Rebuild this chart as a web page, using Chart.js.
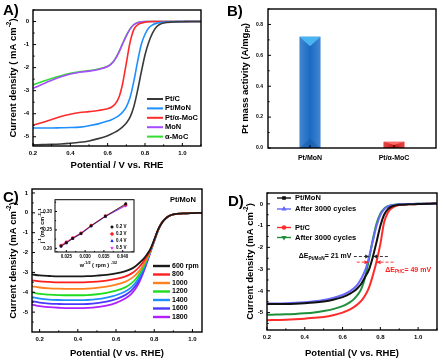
<!DOCTYPE html>
<html>
<head>
<meta charset="utf-8">
<script src="https://cdn.jsdelivr.net/npm/chart.js@4.4.1/dist/chart.umd.min.js"></script>
<style>
  html, body { margin: 0; padding: 0; background: #fff; }
  #fig { position: relative; width: 445px; height: 363px; overflow: hidden; }
  #fig canvas { position: absolute; }
  .tag { position: absolute; font: bold 15px Arial, "Liberation Sans", sans-serif; line-height: 15px; color: #000; }
</style>
</head>
<body>
<div id="fig">
  <canvas id="cA" width="222" height="178" style="left:0;top:0"></canvas>
  <canvas id="cB" width="220" height="178" style="left:225px;top:0"></canvas>
  <canvas id="cC" width="225" height="183" style="left:0;top:180px"></canvas>
  <canvas id="cInset" width="104" height="78" style="left:36px;top:194px"></canvas>
  <canvas id="cD" width="220" height="183" style="left:225px;top:180px"></canvas>
  <div class="tag" style="left:3px;top:2px">A)</div>
  <div class="tag" style="left:227px;top:3px">B)</div>
  <div class="tag" style="left:3px;top:189px">C)</div>
  <div class="tag" style="left:228px;top:193px">D)</div>
</div>
<script>
// ---- panel A: ORR polarization curves ----
const aPotential = [0.2, 0.25, 0.3, 0.35, 0.4, 0.45, 0.5, 0.55, 0.6, 0.62, 0.64, 0.66, 0.68, 0.70,
  0.72, 0.74, 0.76, 0.78, 0.80, 0.82, 0.84, 0.86, 0.88, 0.90, 0.95, 1.0, 1.05, 1.1];
const aPtC = [-5.35, -5.34, -5.33, -5.31, -5.28, -5.24, -5.18, -5.08, -4.95, -4.88, -4.80, -4.70, -4.57, -4.40,
  -4.15, -3.70, -3.00, -2.20, -1.45, -0.90, -0.50, -0.25, -0.12, -0.06, -0.02, -0.01, 0, 0];
const aPtMoN = [-4.62, -4.62, -4.62, -4.61, -4.60, -4.58, -4.52, -4.44, -4.32, -4.26, -4.18, -4.08, -3.93, -3.70,
  -3.30, -2.60, -1.75, -1.00, -0.55, -0.28, -0.15, -0.08, -0.04, -0.02, -0.01, 0, 0, 0];
const aPtMoC = [-4.50, -4.38, -4.25, -4.12, -4.02, -3.95, -3.91, -3.86, -3.78, -3.72, -3.58, -3.30, -2.70, -1.80,
  -0.90, -0.35, -0.15, -0.07, -0.03, -0.01, 0, 0, 0, 0, 0, 0, 0, 0];
const aMoN = [-2.90, -2.72, -2.55, -2.40, -2.28, -2.20, -2.15, -2.08, -1.95, -1.84, -1.64, -1.34, -0.97, -0.62,
  -0.33, -0.14, -0.05, -0.02, 0, 0, 0, 0, 0, 0, 0, 0, 0, 0];
const aMoC = [-2.75, -2.60, -2.47, -2.35, -2.25, -2.18, -2.13, -2.06, -1.94, -1.82, -1.62, -1.32, -0.95, -0.60,
  -0.32, -0.13, -0.05, -0.02, 0, 0, 0, 0, 0, 0, 0, 0, 0, 0];
const aXTicks = [0.2, 0.4, 0.6, 0.8, 1.0];
const aYTicks = [0, -1, -2, -3, -4, -5];

// ---- panel B: mass activity ----
const bCategories = ["Pt/MoN", "Pt/\u03b1-MoC"];
const bValues = [0.72, 0.04];
const bYTicks = [0, 0.2, 0.4, 0.6, 0.8];

// ---- panel C: rotating speeds ----
const cPotential = [0.16, 0.2, 0.25, 0.3, 0.35, 0.4, 0.45, 0.5, 0.55, 0.6, 0.65, 0.68, 0.70, 0.72, 0.74,
  0.76, 0.78, 0.80, 0.82, 0.84, 0.86, 0.88, 0.90, 0.95, 1.0, 1.05];
const cRpmLabels = ["600 rpm", "800", "1000", "1200", "1400", "1600", "1800"];
const c600 = [-3.10, -3.15, -3.18, -3.20, -3.20, -3.20, -3.19, -3.16, -3.12, -3.05, -2.93, -2.82, -2.70, -2.54,
  -2.36, -2.12, -1.82, -1.35, -0.85, -0.50, -0.28, -0.15, -0.08, -0.03, -0.01, 0];
const c800 = [-3.40, -3.45, -3.48, -3.50, -3.50, -3.50, -3.49, -3.46, -3.41, -3.33, -3.20, -3.06, -2.92, -2.74,
  -2.50, -2.20, -1.86, -1.37, -0.86, -0.50, -0.28, -0.15, -0.08, -0.03, -0.01, 0];
const c1000 = [-3.70, -3.76, -3.80, -3.82, -3.83, -3.83, -3.82, -3.78, -3.72, -3.62, -3.46, -3.30, -3.15, -2.95,
  -2.67, -2.32, -1.90, -1.38, -0.87, -0.50, -0.28, -0.15, -0.08, -0.03, -0.01, 0];
const c1200 = [-4.00, -4.08, -4.12, -4.14, -4.15, -4.15, -4.14, -4.10, -4.03, -3.92, -3.74, -3.55, -3.37, -3.12,
  -2.80, -2.38, -1.92, -1.39, -0.87, -0.50, -0.28, -0.15, -0.08, -0.03, -0.01, 0];
const c1400 = [-4.25, -4.32, -4.37, -4.39, -4.40, -4.40, -4.39, -4.35, -4.27, -4.15, -3.95, -3.75, -3.55, -3.27,
  -2.90, -2.44, -1.94, -1.40, -0.88, -0.50, -0.28, -0.15, -0.08, -0.03, -0.01, 0];
const c1600 = [-4.45, -4.52, -4.57, -4.59, -4.60, -4.60, -4.59, -4.55, -4.47, -4.34, -4.13, -3.92, -3.70, -3.40,
  -3.00, -2.50, -1.96, -1.41, -0.88, -0.50, -0.28, -0.15, -0.08, -0.03, -0.01, 0];
const c1800 = [-4.62, -4.70, -4.75, -4.78, -4.80, -4.80, -4.79, -4.75, -4.67, -4.53, -4.30, -4.08, -3.85, -3.52,
  -3.08, -2.55, -1.98, -1.42, -0.89, -0.50, -0.28, -0.15, -0.08, -0.03, -0.01, 0];
const cXTicks = [0.2, 0.4, 0.6, 0.8, 1.0];
const cYTicks = [1, 0, -1, -2, -3, -4, -5];

// ---- inset of C: Koutecky-Levich ----
const insetW = [0.0236, 0.0250, 0.0267, 0.0289, 0.0316, 0.0354, 0.0408];
const inset02 = [0.206, 0.215, 0.227, 0.240, 0.261, 0.287, 0.321];
const inset03 = [0.207, 0.216, 0.228, 0.241, 0.262, 0.288, 0.319];
const inset04 = [0.205, 0.214, 0.226, 0.239, 0.260, 0.286, 0.317];
const inset05 = [0.209, 0.218, 0.229, 0.242, 0.262, 0.287, 0.315];
const insetXTicks = [0.025, 0.030, 0.035, 0.040];
const insetYTicks = [0.20, 0.25, 0.30];

// ---- panel D: durability ----
const dPotential = [0.2, 0.25, 0.3, 0.35, 0.4, 0.45, 0.5, 0.55, 0.6, 0.62, 0.64, 0.66, 0.68, 0.70,
  0.72, 0.74, 0.76, 0.78, 0.80, 0.82, 0.84, 0.86, 0.88, 0.90, 0.95, 1.0, 1.05, 1.1];
const dPtMoN = [-4.60, -4.60, -4.60, -4.59, -4.57, -4.54, -4.49, -4.41, -4.29, -4.22, -4.13, -4.02, -3.87, -3.66,
  -3.35, -3.02, -2.45, -1.75, -1.02, -0.50, -0.24, -0.12, -0.07, -0.04, -0.02, -0.01, 0, 0.02];
const dPtMoNAfter = [-4.58, -4.58, -4.57, -4.55, -4.52, -4.48, -4.42, -4.33, -4.19, -4.11, -4.01, -3.88, -3.70, -3.42,
  -3.05, -2.45, -1.72, -1.02, -0.52, -0.25, -0.12, -0.07, -0.04, -0.02, -0.01, 0, 0, 0.02];
const dPtC = [-5.35, -5.34, -5.33, -5.31, -5.28, -5.24, -5.20, -5.12, -5.00, -4.93, -4.85, -4.75, -4.62, -4.45,
  -4.20, -3.85, -3.30, -2.65, -1.85, -0.85, -0.40, -0.20, -0.10, -0.05, -0.02, -0.01, 0, 0.02];
const dPtCAfter = [-5.10, -5.09, -5.08, -5.06, -5.03, -4.99, -4.93, -4.84, -4.70, -4.62, -4.52, -4.38, -4.18, -3.90,
  -3.35, -2.55, -1.65, -0.90, -0.45, -0.22, -0.11, -0.06, -0.04, -0.02, -0.01, 0, 0, 0.02];
const dXTicks = [0.2, 0.4, 0.6, 0.8, 1.0];
const dYTicks = [0, -1, -2, -3, -4, -5];

const FONT = 'Arial, "Liberation Sans", Helvetica, sans-serif';
Chart.defaults.font.family = FONT;
Chart.defaults.color = "#000";

function bold(size) {
  return { family: FONT, size, weight: "bold" };
}

function pts(xs, ys) {
  return xs.map((x, i) => ({ x, y: ys[i] }));
}

// text with sub/superscript pieces: parts = [[text, "n"|"sub"|"sup"], ...]
function richText(ctx, parts, x, y, size, opts = {}) {
  const fontFor = (k) => `bold ${k === "n" ? size : size * 0.68}px ${FONT}`;
  let w = 0;
  parts.forEach(([t, k]) => { ctx.font = fontFor(k); w += ctx.measureText(t).width; });
  ctx.save();
  ctx.translate(x, y);
  if (opts.rotate) ctx.rotate(opts.rotate);
  ctx.fillStyle = opts.color || "#000";
  ctx.textBaseline = "middle";
  ctx.textAlign = "left";
  let cx = opts.align === "left" ? 0 : -w / 2;
  parts.forEach(([t, k]) => {
    ctx.font = fontFor(k);
    const dy = k === "sup" ? -size * 0.38 : k === "sub" ? size * 0.32 : 0;
    ctx.fillText(t, cx, dy);
    cx += ctx.measureText(t).width;
  });
  ctx.restore();
}

function minorValues(vals, min, max) {
  const out = [];
  if (vals.length < 2) return out;
  const step = vals[1] - vals[0];
  for (let k = -12; k < vals.length + 12; k++) {
    const v = vals[0] + (k + 0.5) * step;
    if (v >= Math.min(min, max) - 1e-9 && v <= Math.max(min, max) + 1e-9) out.push(v);
  }
  return out;
}

function drawArrow(ctx, x1, x2, y, color) {
  ctx.save();
  ctx.strokeStyle = color;
  ctx.fillStyle = color;
  ctx.lineWidth = 0.9;
  ctx.setLineDash([3, 2]);
  ctx.beginPath();
  ctx.moveTo(x1, y);
  ctx.lineTo(x2, y);
  ctx.stroke();
  ctx.setLineDash([]);
  const dir = x2 > x1 ? 1 : -1;
  ctx.beginPath();
  ctx.moveTo(x2, y);
  ctx.lineTo(x2 - dir * 4, y - 2);
  ctx.lineTo(x2 - dir * 4, y + 2);
  ctx.closePath();
  ctx.fill();
  ctx.restore();
}

// frame, inward ticks, legend, titles and notes
const deco = {
  id: "deco",
  afterDraw(chart, args, o) {
    const { ctx, chartArea: a, scales } = chart;
    const len = o.tickLen || 3;
    ctx.save();
    ctx.strokeStyle = "#000";
    ctx.lineWidth = 1;
    const seg = (x1, y1, x2, y2) => { ctx.beginPath(); ctx.moveTo(x1, y1); ctx.lineTo(x2, y2); ctx.stroke(); };

    const xs = scales.x;
    if (xs.type === "category") {
      xs.ticks.forEach((t, i) => { const px = xs.getPixelForTick(i); seg(px, a.bottom, px, a.bottom - len); });
    } else {
      const xv = xs.ticks.map((t) => t.value);
      xv.forEach((v) => { const px = xs.getPixelForValue(v); seg(px, a.bottom, px, a.bottom - len); });
      minorValues(xv, xs.min, xs.max).forEach((v) => {
        const px = xs.getPixelForValue(v); seg(px, a.bottom, px, a.bottom - len * 0.55);
      });
    }
    const ys = scales.y;
    const yv = ys.ticks.map((t) => t.value);
    yv.forEach((v) => { const py = ys.getPixelForValue(v); seg(a.left, py, a.left + len, py); });
    minorValues(yv, ys.min, ys.max).forEach((v) => {
      const py = ys.getPixelForValue(v); seg(a.left, py, a.left + len * 0.55, py);
    });

    ctx.lineWidth = o.frameWidth || 1.4;
    ctx.strokeRect(a.left, a.top, a.right - a.left, a.bottom - a.top);

    if (o.legend) {
      const L = o.legend;
      let row = 0;
      chart.data.datasets.forEach((ds) => {
        if (!ds.label) return;
        const y = L.rows[row++];
        ctx.save();
        if (L.line) {
          ctx.strokeStyle = ds.borderColor;
          ctx.lineWidth = L.lineWidth || 2;
          seg(L.x1, y, L.x2, y);
        }
        if (ds.legendMarker) {
          ctx.fillStyle = ds.borderColor;
          ctx.strokeStyle = ds.borderColor;
          Chart.helpers.drawPoint(ctx, { pointStyle: ds.legendMarker, radius: L.markerRadius || 1.6,
            rotation: ds.pointRotation || 0, borderWidth: 0.5 }, (L.x1 + L.x2) / 2, y);
        }
        ctx.restore();
        richText(ctx, [[ds.label, "n"]], L.textX, y, L.size, { align: "left" });
      });
    }
    if (o.xTitle) {
      richText(ctx, o.xTitle.parts, (a.left + a.right) / 2 + (o.xTitle.dx || 0), o.xTitle.y, o.xTitle.size);
    }
    if (o.yTitle) {
      richText(ctx, o.yTitle.parts, o.yTitle.x, (a.top + a.bottom) / 2 + (o.yTitle.dy || 0), o.yTitle.size,
        { rotate: -Math.PI / 2 });
    }
    (o.notes || []).forEach((n) => {
      const px = n.px !== undefined ? n.px : xs.getPixelForValue(n.x);
      const py = n.py !== undefined ? n.py : ys.getPixelForValue(n.y);
      richText(ctx, n.parts, px, py, n.size, { align: "left", color: n.color });
    });
    (o.arrows || []).forEach((ar) => {
      const py = ys.getPixelForValue(ar.y);
      drawArrow(ctx, xs.getPixelForValue(ar.from), xs.getPixelForValue(ar.to), py, ar.color);
    });
    ctx.restore();
  },
};

function linearAxis(min, max, ticks, digits, size, pad, fit, isX) {
  return {
    type: "linear",
    min,
    max,
    grid: { display: false, drawTicks: false },
    border: { display: false },
    afterBuildTicks: (s) => { s.ticks = ticks.map((v) => ({ value: v })); },
    afterFit: (s) => { if (isX) s.height = fit; else s.width = fit; },
    ticks: {
      autoSkip: false,
      maxRotation: 0,
      padding: pad,
      font: bold(size),
      color: "#000",
      callback: (v) => Number(v).toFixed(digits),
    },
  };
}

function lineSet(label, xs, ys, color, width) {
  return {
    label,
    data: pts(xs, ys),
    borderColor: color,
    backgroundColor: color,
    borderWidth: width,
    pointRadius: 0,
    cubicInterpolationMode: "monotone",
    fill: false,
  };
}

const baseOptions = {
  responsive: false,
  animation: false,
  devicePixelRatio: 1,
  events: [],
};

const CM2 = [["Current density ( mA cm", "n"], ["-2", "sup"], [")", "n"]];

// ---- A ----
new Chart(document.getElementById("cA"), {
  type: "line",
  data: {
    datasets: [
      lineSet("Pt/C", aPotential, aPtC, "#3a3a3a", 1.6),
      lineSet("Pt/MoN", aPotential, aPtMoN, "#1e8fff", 1.6),
      lineSet("Pt/\u03b1-MoC", aPotential, aPtMoC, "#ff2a2a", 1.6),
      lineSet("MoN", aPotential, aMoN, "#a64dff", 1.6),
      lineSet("\u03b1-MoC", aPotential, aMoC, "#33dd33", 1.6),
    ],
  },
  options: {
    ...baseOptions,
    layout: { padding: { top: 10, right: 21, left: 0, bottom: 0 } },
    scales: {
      x: linearAxis(0.2, 1.1, aXTicks, 1, 6, 4, 32, true),
      y: linearAxis(-5.4, 0.5, aYTicks, 0, 6, 4, 33, false),
    },
    plugins: {
      legend: { display: false },
      tooltip: { enabled: false },
      deco: {
        legend: { line: true, x1: 147, x2: 163, textX: 165, size: 7.5, lineWidth: 2,
          rows: [99, 108.4, 117.8, 127.2, 136.6] },
        xTitle: { parts: [["Potential / V vs. RHE", "n"]], y: 165, size: 9.5 },
        yTitle: { parts: CM2, x: 13, size: 9.5 },
      },
    },
  },
  plugins: [deco],
});

// ---- B ----
const barShade = {
  id: "barShade",
  afterDatasetsDraw(chart) {
    const ctx = chart.ctx;
    const lights = ["#4ab4f2", "#ff6a6a"];
    const darks = ["#0d4f9c", "#a81414"];
    chart.getDatasetMeta(0).data.forEach((bar, i) => {
      const left = bar.x - bar.width / 2;
      const right = bar.x + bar.width / 2;
      const top = bar.y;
      const bottom = bar.base;
      const h = bottom - top;
      const tri = Math.min(bar.width * 0.45, h * 0.5);
      ctx.save();
      const g = ctx.createLinearGradient(left, 0, right, 0);
      g.addColorStop(0, "rgba(255,255,255,0.18)");
      g.addColorStop(0.5, "rgba(255,255,255,0)");
      g.addColorStop(1, "rgba(255,255,255,0.18)");
      ctx.fillStyle = g;
      ctx.fillRect(left, top, right - left, h);
      ctx.fillStyle = lights[i];
      ctx.beginPath();
      ctx.moveTo(left, top);
      ctx.lineTo(right, top);
      ctx.lineTo(bar.x, top + tri);
      ctx.closePath();
      ctx.fill();
      ctx.globalAlpha = 0.35;
      ctx.fillStyle = darks[i];
      ctx.beginPath();
      ctx.moveTo(left, bottom);
      ctx.lineTo(right, bottom);
      ctx.lineTo(bar.x, bottom - tri);
      ctx.closePath();
      ctx.fill();
      ctx.restore();
    });
  },
};

new Chart(document.getElementById("cB"), {
  type: "bar",
  data: {
    labels: bCategories,
    datasets: [{
      data: bValues,
      backgroundColor: ["#1a6bc4", "#d81f1f"],
      barPercentage: 0.5,
      categoryPercentage: 0.5,
    }],
  },
  options: {
    ...baseOptions,
    layout: { padding: { top: 9, right: 9, left: 0, bottom: 0 } },
    scales: {
      x: {
        type: "category",
        offset: true,
        grid: { display: false, drawTicks: false },
        border: { display: false },
        afterFit: (s) => { s.height = 30; },
        ticks: { font: bold(7), color: "#000", padding: 6, maxRotation: 0 },
      },
      y: linearAxis(0, 0.9, bYTicks, 1, 5, 5, 43, false),
    },
    plugins: {
      legend: { display: false },
      tooltip: { enabled: false },
      deco: {
        yTitle: { parts: [["Pt mass activity (A/mg", "n"], ["Pt", "sub"], [")", "n"]], x: 20, size: 9.5 },
      },
    },
  },
  plugins: [barShade, deco],
});

// ---- C ----
const cColors = ["#1a1a1a", "#ff1f1f", "#ff801f", "#1fdc1f", "#1f8fff", "#4a3aff", "#b01fff"];
const cSeries = [c600, c800, c1000, c1200, c1400, c1600, c1800];
new Chart(document.getElementById("cC"), {
  type: "line",
  data: {
    datasets: cSeries.map((ys, i) => lineSet(cRpmLabels[i], cPotential, ys, cColors[i], 1.8)),
  },
  options: {
    ...baseOptions,
    layout: { padding: { top: 9, right: 23, left: 0, bottom: 0 } },
    scales: {
      x: linearAxis(0.16, 1.05, cXTicks, 1, 6, 4, 31, true),
      y: linearAxis(-6, 1.2, cYTicks, 0, 6, 4, 32, false),
    },
    plugins: {
      legend: { display: false },
      tooltip: { enabled: false },
      deco: {
        legend: { line: true, x1: 153, x2: 170, textX: 172, size: 7, lineWidth: 2.4,
          rows: [86, 94.5, 103, 111.5, 120, 128.5, 137] },
        xTitle: { parts: [["Potential (V vs. RHE)", "n"]], y: 173, size: 9.5 },
        yTitle: { parts: [["Current density (mA cm", "n"], ["-2", "sup"], [")", "n"]], x: 13, size: 9.5 },
        notes: [{ parts: [["Pt/MoN", "n"]], px: 170, py: 20, size: 7.5 }],
      },
    },
  },
  plugins: [deco],
});

// ---- inset ----
function insetSet(label, ys, color, style, rotation) {
  return {
    label,
    data: pts(insetW, ys),
    borderColor: color,
    backgroundColor: color,
    borderWidth: 0.7,
    showLine: true,
    pointStyle: style,
    pointRotation: rotation || 0,
    pointRadius: 1.3,
    legendMarker: style,
  };
}
new Chart(document.getElementById("cInset"), {
  type: "line",
  data: {
    datasets: [
      insetSet("0.2 V", inset02, "#111111", "rect"),
      insetSet("0.3 V", inset03, "#ff2020", "circle"),
      insetSet("0.4 V", inset04, "#2a2aff", "triangle"),
      insetSet("0.5 V", inset05, "#ff33ff", "triangle", 180),
    ],
  },
  options: {
    ...baseOptions,
    layout: { padding: { top: 4, right: 6, left: 0, bottom: 0 } },
    scales: {
      x: linearAxis(0.022, 0.043, insetXTicks, 3, 4.5, 2, 20, true),
      y: linearAxis(0.19, 0.332, insetYTicks, 2, 4.5, 3, 19, false),
    },
    plugins: {
      legend: { display: false },
      tooltip: { enabled: false },
      deco: {
        tickLen: 2,
        frameWidth: 1,
        legend: { line: false, x1: 76, x2: 76, textX: 80, size: 4.5, markerRadius: 1.3, rows: [33, 40, 47, 54] },
        xTitle: { parts: [["w", "n"], ["-1/2", "sup"], [" ( rpm ) ", "n"], ["-1/2", "sup"]], y: 71, size: 5.5, dx: 4 },
        yTitle: { parts: [["j", "n"], ["-1", "sup"], [" (mA cm", "n"], ["-2", "sup"], [")", "n"], ["-1", "sup"]],
          x: 6, size: 5.5 },
      },
    },
  },
  plugins: [deco],
});

// ---- D ----
function dSet(label, ys, color, marker, rotation) {
  const s = lineSet(label, dPotential, ys, color, 2);
  s.legendMarker = marker;
  s.pointRotation = rotation || 0;
  return s;
}
new Chart(document.getElementById("cD"), {
  type: "line",
  data: {
    datasets: [
      dSet("Pt/MoN", dPtMoN, "#111111", "rect"),
      dSet("After 3000 cycles", dPtMoNAfter, "#6868ff", "triangle"),
      dSet("Pt/C", dPtC, "#ff2b2b", "circle"),
      dSet("After 3000 cycles", dPtCAfter, "#1e8f3a", "triangle", 180),
    ],
  },
  options: {
    ...baseOptions,
    layout: { padding: { top: 13, right: 8, left: 0, bottom: 0 } },
    scales: {
      x: linearAxis(0.2, 1.1, dXTicks, 1, 6, 4, 33, true),
      y: linearAxis(-5.8, 0.5, dYTicks, 0, 6, 4, 42, false),
    },
    plugins: {
      legend: { display: false },
      tooltip: { enabled: false },
      deco: {
        legend: { line: true, x1: 52, x2: 66, textX: 70, size: 7.5, lineWidth: 1.4, markerRadius: 1.6,
          rows: [18, 29, 47.5, 57.5] },
        xTitle: { parts: [["Potential (V vs. RHE)", "n"]], y: 173, size: 9.5 },
        yTitle: { parts: [["Current density (mA cm", "n"], ["-2", "sup"], [")", "n"]], x: 25, size: 9.5 },
        notes: [
          { parts: [["\u0394E", "n"], ["Pt/MoN", "sub"], ["= 21 mV", "n"]], x: 0.368, y: -2.42, size: 7 },
          { parts: [["\u0394E", "n"], ["Pt/C", "sub"], ["= 49 mV", "n"]], x: 0.826, y: -3.03, size: 7,
            color: "#ff2020" },
        ],
        arrows: [
          { from: 0.66, to: 0.741, y: -2.42, color: "#222" },
          { from: 0.84, to: 0.762, y: -2.42, color: "#222" },
          { from: 0.675, to: 0.737, y: -2.68, color: "#ff2020" },
          { from: 0.87, to: 0.78, y: -2.68, color: "#ff2020" },
        ],
      },
    },
  },
  plugins: [deco],
});
</script>
</body>
</html>
